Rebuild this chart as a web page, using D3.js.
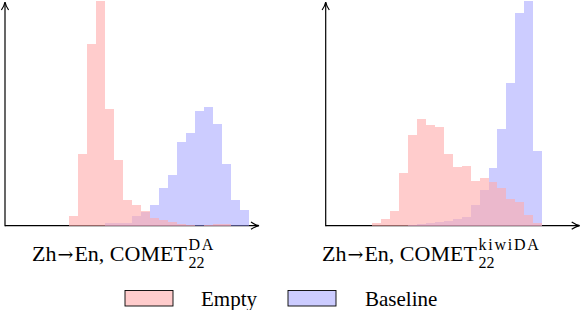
<!DOCTYPE html>
<html><head><meta charset="utf-8">
<script src="https://cdn.jsdelivr.net/npm/d3@7"></script>
<style>body{margin:0;background:#fff} svg{display:block}</style>
</head><body>
<svg id="c" width="582" height="310"></svg>
<script>
// ---- data (bin edges in normalised score units, counts per bin) ----
const leftBinStart = 0.252, leftBinWidth = 0.0354;
const rightBinStart = 0.1835, rightBinWidth = 0.0352;
const leftEmpty    = [9.7, 71.4, 182, 224.7, 116.7, 65.4, 25.7, 21, 14.7, 8, 5.7, 3.4, 1.5, 0.5, 0, 0.5, 1.5, 1.5, 0, 0];
const leftBaseline = [0, 0, 0, 0, 2.4, 3, 3, 10, 14, 20.4, 37.4, 51, 83.4, 92.4, 115, 118.7, 102, 61.4, 25.4, 16];
const rightEmpty    = [2.7, 6.5, 14.7, 52.4, 90.4, 106.4, 100.7, 98.4, 71.4, 59, 60, 45, 47.4, 44, 38, 26.4, 23.7, 10.7, 3];
const rightBaseline = [0, 0, 0, 0, 0.5, 1.7, 2.5, 3.5, 5, 6.4, 8.4, 20.7, 35.4, 57.4, 97, 142.4, 212.4, 224.7, 74.7];
const seriesNames = ["Empty", "Baseline"];
const titleParts = [["Zh", "→", "En, COMET"], ["Zh", "→", "En, COMET"]];
const titleSub = ["22", "22"];
const titleSup = ["DA", "kiwiDA"];

// ---- styles ----
const FONT = "'Liberation Serif','Times New Roman',serif";
const emptyColor = "rgb(255,170,170)", emptyOpacity = 0.6;
const baseColor = "rgb(153,153,255)", baseOpacity = 0.5;

const svg = d3.select("#c");
const axisLen = 254, baseY = 225.7, topY = 2;
const yScale = d3.scaleLinear().domain([0, 225]).range([baseY, baseY - 225]);

const panels = [
  {x0: 5, start: leftBinStart, w: leftBinWidth, empty: leftEmpty, base: leftBaseline, labelX: 32},
  {x0: 325.7, start: rightBinStart, w: rightBinWidth, empty: rightEmpty, base: rightBaseline, labelX: 322}
];

function arrowHead(g, x, y, dir) {
  const p = dir === 'up'
    ? `M${x-3.6},${y+8} Q${x-0.6},${y+3.5} ${x},${y} Q${x+0.6},${y+3.5} ${x+3.6},${y+8}`
    : `M${x-8},${y-3.6} Q${x-3.5},${y-0.6} ${x},${y} Q${x-3.5},${y+0.6} ${x-8},${y+3.6}`;
  g.append("path").attr("d", p).attr("fill", "none").attr("stroke", "#000")
    .attr("stroke-width", 1.2).attr("stroke-linejoin", "miter");
}

panels.forEach((p, pi) => {
  const g = svg.append("g");
  const x = d3.scaleLinear().domain([0, 1]).range([p.x0, p.x0 + axisLen]);
  g.append("line").attr("x1", x(0)).attr("x2", x(1) - 0.5).attr("y1", baseY).attr("y2", baseY)
    .attr("stroke", "#000").attr("stroke-width", 1.2);
  g.append("line").attr("x1", x(0)).attr("x2", x(0)).attr("y1", baseY + 0.6).attr("y2", topY + 0.5)
    .attr("stroke", "#000").attr("stroke-width", 1.2);
  arrowHead(g, x(0), topY, 'up');
  arrowHead(g, x(1), baseY, 'right');

  const bars = (vals, color, op) => {
    g.append("g").selectAll("rect")
      .data(vals.map((v, i) => ({v, i})).filter(d => d.v > 0))
      .join("rect")
      .attr("x", d => x(p.start + d.i * p.w))
      .attr("width", d => x(p.start + (d.i + 1) * p.w) - x(p.start + d.i * p.w))
      .attr("y", d => yScale(d.v))
      .attr("height", d => yScale(0) - yScale(d.v))
      .attr("fill", color).attr("fill-opacity", op)
      .attr("shape-rendering", "crispEdges");
  };
  bars(p.base, baseColor, baseOpacity);
  bars(p.empty, emptyColor, emptyOpacity);

  // label
  const parts = titleParts[pi];
  const main = svg.append("text").attr("x", p.labelX).attr("y", 261)
    .attr("font-family", FONT).attr("font-size", 22);
  main.append("tspan").text(parts[0]);
  main.append("tspan").attr("font-family", "'DejaVu Serif',serif").attr("font-size", 19)
    .attr("dx", 1).text(parts[1]);
  main.append("tspan").attr("dx", 1).text(parts[2]);
  const bb = main.node().getBBox();
  const sx = bb.x + bb.width + 1;
  svg.append("text").attr("x", sx).attr("y", 268).attr("font-family", FONT)
    .attr("font-size", 16).text(titleSub[pi]);
  svg.append("text").attr("x", sx).attr("y", 250).attr("font-family", FONT)
    .attr("font-size", 16).attr("letter-spacing", 1.8).text(titleSup[pi]);
});

// legend
const legendItems = [
  {name: seriesNames[0], fill: "rgb(255,204,204)", bx: 125, tx: 201},
  {name: seriesNames[1], fill: "rgb(204,204,255)", bx: 288, tx: 365}
];
legendItems.forEach(d => {
  svg.append("rect").attr("x", d.bx).attr("y", 290.5).attr("width", 48).attr("height", 15.5)
    .attr("fill", d.fill).attr("stroke", "#000").attr("stroke-width", 0.9);
  svg.append("text").attr("x", d.tx).attr("y", 306).attr("font-family", FONT)
    .attr("font-size", 21).text(d.name);
});
</script>
</body></html>
